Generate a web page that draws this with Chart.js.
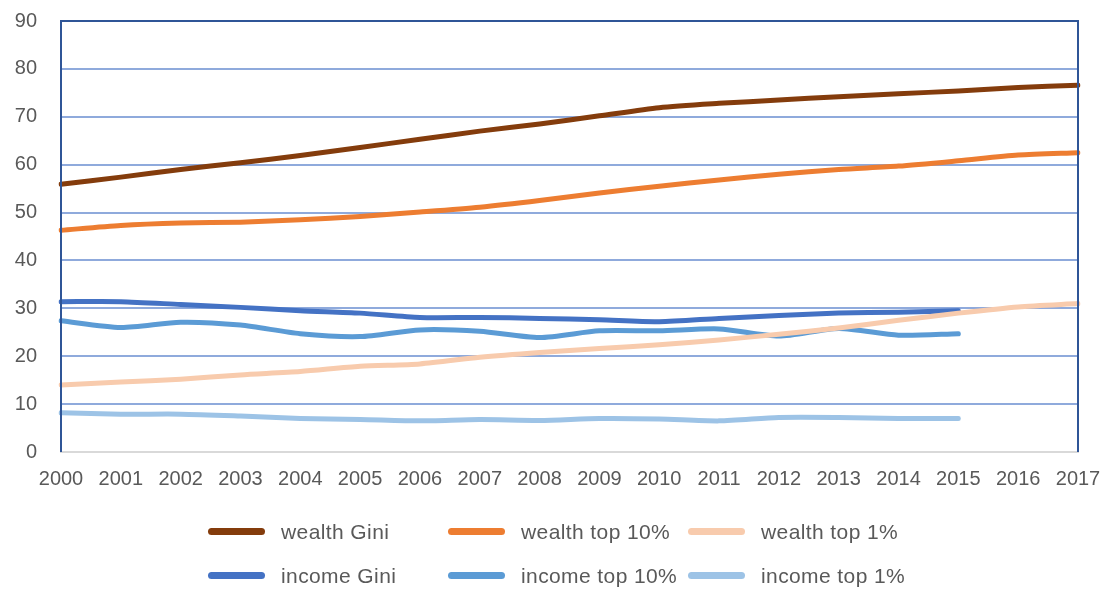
<!DOCTYPE html>
<html>
<head>
<meta charset="utf-8">
<script src="https://cdn.jsdelivr.net/npm/chart.js@4"></script>
<style>
  html, body { margin: 0; padding: 0; background: #fff; }
  #wrap { position: relative; width: 1107px; height: 590px; }
  #legend { position: absolute; left: 0; top: 0; width: 1107px; height: 590px; pointer-events: none;
    font-family: "Liberation Sans", Arial, sans-serif; font-size: 21px; letter-spacing: 0.4px; color: #595959; }
  .item { position: absolute; height: 24px; line-height: 24px; white-space: nowrap; }
  .item .sw { position: absolute; left: 0; top: 8px; width: 57px; height: 7px; border-radius: 4px; }
  .item .tx { position: absolute; left: 73px; top: 0; }
</style>
</head>
<body>
<div id="wrap">
  <canvas id="CanvasChart" width="1107" height="590"></canvas>
  <div id="legend"></div>
</div>
<script>
let years = ["2000","2001","2002","2003","2004","2005","2006","2007","2008","2009","2010","2011","2012","2013","2014","2015","2016","2017"];
let yTicks = [0,10,20,30,40,50,60,70,80,90];

let wealthGini  = [55.9,57.4,59.0,60.4,61.9,63.6,65.3,67.0,68.5,70.2,71.9,72.8,73.5,74.2,74.8,75.4,76.1,76.6];
let wealthTop10 = [46.3,47.3,47.8,48.0,48.5,49.2,50.1,51.1,52.5,54.1,55.5,56.8,58.0,59.0,59.7,60.8,62.0,62.5];
let wealthTop1  = [14.0,14.6,15.2,16.1,16.8,17.9,18.4,19.8,20.8,21.6,22.4,23.4,24.6,25.9,27.5,29.0,30.3,31.0];
let incomeGini  = [31.4,31.4,30.8,30.2,29.5,29.0,28.1,28.1,27.9,27.6,27.2,27.9,28.5,29.0,29.2,29.5,null,null];
let incomeTop10 = [27.4,26.0,27.1,26.5,24.7,24.1,25.5,25.2,23.9,25.3,25.3,25.7,24.2,25.8,24.4,24.7,null,null];
let incomeTop1  = [8.2,7.9,7.9,7.5,7.0,6.8,6.5,6.8,6.6,7.0,6.9,6.5,7.2,7.2,7.0,7.0,null,null];

let seriesNames = ["wealth Gini","wealth top 10%","wealth top 1%","income Gini","income top 10%","income top 1%"];
let seriesColors = ["#843C0C","#ED7D31","#F8CBAD","#4472C4","#5B9BD5","#9DC3E6"];
let seriesData = [wealthGini, wealthTop10, wealthTop1, incomeGini, incomeTop10, incomeTop1];

const fontFam = '"Liberation Sans", Arial, sans-serif';

// frame: dark blue left/top/right edges
const framePlugin = {
  id: 'frame',
  afterDraw(chart) {
    const a = chart.chartArea, c = chart.ctx;
    c.save();
    c.strokeStyle = '#2F5597';
    c.lineWidth = 2;
    c.beginPath();
    c.moveTo(a.left, a.bottom);
    c.lineTo(a.left, a.top);
    c.lineTo(a.right, a.top);
    c.lineTo(a.right, a.bottom);
    c.stroke();
    c.restore();
  }
};

const data1 = {
  labels: years,
  datasets: seriesData.map((d, i) => ({
    label: seriesNames[i],
    data: d,
    borderColor: seriesColors[i],
    backgroundColor: seriesColors[i],
    borderWidth: 5,
    pointRadius: 0,
    fill: false,
    tension: 0.25,
    borderCapStyle: 'round',
    borderJoinStyle: 'round',
    spanGaps: false
  }))
};

const config1 = {
  type: 'line',
  data: data1,
  plugins: [framePlugin],
  options: {
    responsive: false,
    animation: false,
    layout: { padding: { left: 0, right: 29, top: 21, bottom: 98 } },
    plugins: { legend: { display: false }, tooltip: { enabled: false } },
    scales: {
      x: {
        offset: false,
        grid: { display: false },
        border: { display: true, color: '#D9D9D9', width: 2 },
        ticks: { color: '#595959', font: { family: fontFam, size: 20 }, padding: 7, maxRotation: 0, autoSkip: false },
        afterFit(axis) { axis.height = 40; axis.paddingLeft = 0; axis.paddingRight = 0; }
      },
      y: {
        min: 0, max: 90,
        afterBuildTicks(axis) { axis.ticks = yTicks.map(v => ({ value: v })); },
        grid: {
          color: ctx => ctx.tick && ctx.tick.value === 0 ? '#D9D9D9' : '#8FAADC',
          lineWidth: 2,
          drawTicks: false
        },
        border: { display: false },
        ticks: { color: '#595959', font: { family: fontFam, size: 20 }, padding: 24 },
        afterFit(axis) { axis.width = 61; axis.paddingTop = 0; axis.paddingBottom = 0; }
      }
    }
  }
};

let ctx1 = document.getElementById("CanvasChart").getContext("2d");
var myChart1 = new Chart(ctx1, config1);

// legend, 3 columns x 2 rows
let legendX = [208, 448, 688];
let legendY = [520, 564];
let lg = document.getElementById("legend");
seriesNames.forEach((name, i) => {
  let el = document.createElement("div");
  el.className = "item";
  el.style.left = legendX[i % 3] + "px";
  el.style.top = legendY[Math.floor(i / 3)] + "px";
  el.innerHTML = '<span class="sw" style="background:' + seriesColors[i] + '"></span><span class="tx">' + name + '</span>';
  lg.appendChild(el);
});
</script>
</body>
</html>
